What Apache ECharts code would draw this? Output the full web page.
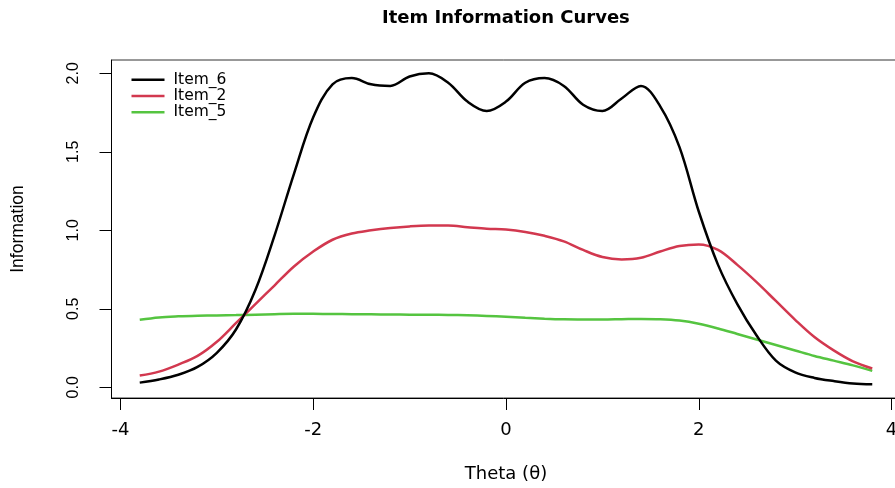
<!DOCTYPE html>
<html>
<head>
<meta charset="utf-8">
<title>Item Information Curves</title>
<script src="https://cdn.jsdelivr.net/npm/echarts@6/dist/echarts.min.js"></script>
<style>
  html, body { margin: 0; padding: 0; background: #fff; }
  #chart { width: 895px; height: 488px; }
</style>
</head>
<body>
<div id="chart"></div>
<script>
// theta grid the curves were read at
const thetas = [-3.8, -3.6, -3.4, -3.2, -3.0, -2.8, -2.6, -2.4, -2.2, -2.0,
  -1.8, -1.6, -1.4, -1.2, -1.0, -0.8, -0.6, -0.4, -0.2, 0.0,
  0.2, 0.4, 0.6, 0.8, 1.0, 1.2, 1.4, 1.6, 1.8, 2.0,
  2.2, 2.4, 2.6, 2.8, 3.0, 3.2, 3.4, 3.6, 3.8];

const item6 = [0.03, 0.05, 0.08, 0.13, 0.22, 0.37, 0.62, 0.97, 1.36, 1.72,
  1.93, 1.97, 1.93, 1.92, 1.98, 2.00, 1.94, 1.82, 1.76, 1.82,
  1.94, 1.97, 1.92, 1.80, 1.76, 1.84, 1.92, 1.79, 1.53, 1.12,
  0.78, 0.53, 0.33, 0.17, 0.095, 0.06, 0.04, 0.025, 0.02];

const item2 = [0.075, 0.10, 0.145, 0.20, 0.29, 0.41, 0.53, 0.65, 0.77, 0.865,
  0.94, 0.98, 1.00, 1.015, 1.025, 1.03, 1.03, 1.02, 1.01, 1.005,
  0.99, 0.965, 0.93, 0.875, 0.83, 0.815, 0.825, 0.865, 0.90, 0.91,
  0.875, 0.78, 0.67, 0.55, 0.43, 0.32, 0.235, 0.165, 0.12];

const item5 = [0.43, 0.445, 0.452, 0.456, 0.458, 0.46, 0.463, 0.466, 0.468, 0.468,
  0.467, 0.466, 0.465, 0.464, 0.463, 0.462, 0.461, 0.459, 0.455, 0.45,
  0.443, 0.437, 0.433, 0.432, 0.432, 0.434, 0.436, 0.434, 0.425, 0.405,
  0.375, 0.34, 0.305, 0.27, 0.235, 0.2, 0.17, 0.14, 0.105];

const seriesNames = ['Item_6', 'Item_2', 'Item_5'];
const seriesColors = ['#000000', '#D2384F', '#55C440'];

const xTicks = [-4, -2, 0, 2, 4];
const yTicks = [0, 0.5, 1, 1.5, 2];

const chart = echarts.init(document.getElementById('chart'));

function pairs(values) {
  return thetas.map((t, i) => [t, values[i]]);
}

// horizontal text in the picture is drawn wider than Arial, DejaVu fits it better
const horizFont = 'DejaVu Sans';
const vertFont = 'Liberation Sans';

const option = {
  animation: false,
  backgroundColor: '#ffffff',
  title: {
    text: 'Item Information Curves',
    left: 377,
    top: 4,
    textStyle: {
      fontFamily: horizFont,
      fontWeight: 'bold',
      fontSize: 18,
      color: '#000'
    }
  },
  legend: {
    orient: 'vertical',
    left: 126.5,
    top: 66.5,
    itemWidth: 33,
    itemHeight: 2.5,
    itemGap: 0,
    icon: 'rect',
    data: seriesNames,
    textStyle: {
      fontFamily: horizFont,
      fontSize: 15.5,
      lineHeight: 16.3,
      color: '#000',
      padding: [0, 0, 0, 4]
    }
  },
  grid: {
    left: 111.5,
    top: 60,
    width: 789,
    height: 338,
    show: true,
    borderColor: '#333',
    borderWidth: 1,
    outerBoundsMode: 'none'
  },
  xAxis: {
    type: 'value',
    min: -4.093,
    max: 4.093,
    name: 'Theta (θ)',
    nameLocation: 'middle',
    nameGap: 67,
    nameTextStyle: { fontFamily: horizFont, fontSize: 18, color: '#000' },
    axisLine: { show: true, onZero: false, lineStyle: { color: '#000', width: 1 } },
    axisTick: { show: true, length: 12, customValues: xTicks, lineStyle: { color: '#000' } },
    axisLabel: {
      customValues: xTicks,
      margin: 23,
      fontFamily: horizFont,
      fontSize: 18,
      color: '#000',
      showMinLabel: true,
      showMaxLabel: true
    },
    splitLine: { show: false }
  },
  yAxis: {
    type: 'value',
    min: -0.068,
    max: 2.085,
    name: 'Information',
    nameLocation: 'middle',
    nameRotate: 90,
    nameGap: 84,
    nameTextStyle: { fontFamily: vertFont, fontSize: 17.5, color: '#000' },
    axisLine: { show: true, onZero: false, lineStyle: { color: '#000', width: 1 } },
    axisTick: { show: true, length: 12, customValues: yTicks, lineStyle: { color: '#000' } },
    axisLabel: {
      customValues: yTicks,
      rotate: 90,
      margin: 30,
      fontFamily: vertFont,
      fontSize: 16,
      color: '#000',
      formatter: (v) => v.toFixed(1)
    },
    splitLine: { show: false }
  },
  series: [item6, item2, item5].map((values, i) => ({
    name: seriesNames[i],
    type: 'line',
    data: pairs(values),
    smooth: 0.35,
    symbol: 'none',
    showSymbol: false,
    color: seriesColors[i],
    lineStyle: { color: seriesColors[i], width: 2.5 },
    z: 3 - i
  }))
};

chart.setOption(option);
</script>
</body>
</html>
